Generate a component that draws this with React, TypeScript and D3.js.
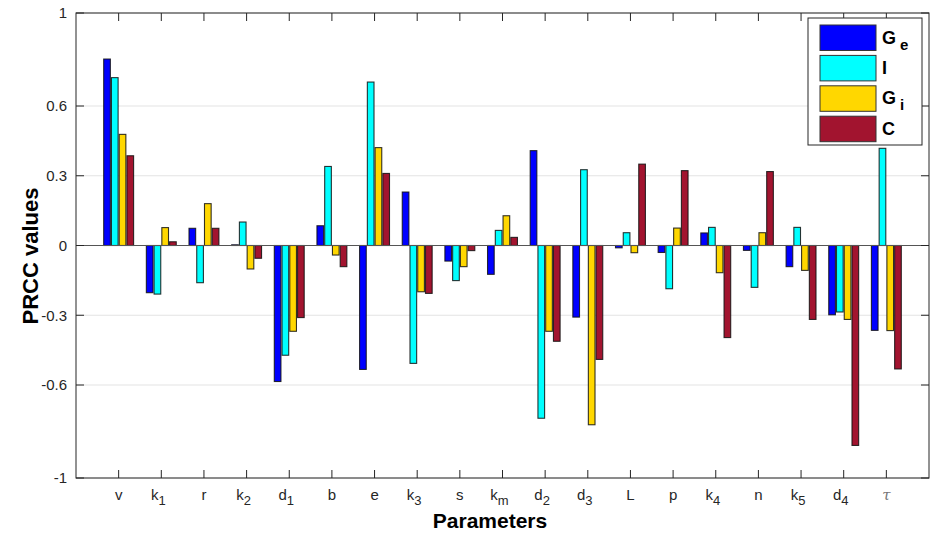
import React from "react";
import * as d3 from "d3";

const categories: { base: string; sub?: string; italic?: boolean }[] = [
  { base: "v" }, { base: "k", sub: "1" }, { base: "r" }, { base: "k", sub: "2" },
  { base: "d", sub: "1" }, { base: "b" }, { base: "e" }, { base: "k", sub: "3" },
  { base: "s" }, { base: "k", sub: "m" }, { base: "d", sub: "2" }, { base: "d", sub: "3" },
  { base: "L" }, { base: "p" }, { base: "k", sub: "4" }, { base: "n" },
  { base: "k", sub: "5" }, { base: "d", sub: "4" }, { base: "τ", italic: true },
];

const Ge = [0.802, -0.203, 0.074, 0.003, -0.585, 0.085, -0.533, 0.23, -0.067, -0.124, 0.408, -0.308, -0.01, -0.03, 0.054, -0.021, -0.091, -0.298, -0.365];
const I = [0.722, -0.209, -0.16, 0.101, -0.472, 0.34, 0.703, -0.507, -0.151, 0.065, -0.743, 0.326, 0.055, -0.186, 0.078, -0.18, 0.078, -0.286, 0.418];
const Gi = [0.478, 0.077, 0.18, -0.101, -0.369, -0.041, 0.421, -0.199, -0.091, 0.128, -0.369, -0.771, -0.031, 0.075, -0.117, 0.055, -0.107, -0.318, -0.366];
const C = [0.386, 0.016, 0.074, -0.055, -0.31, -0.091, 0.31, -0.206, -0.022, 0.035, -0.412, -0.49, 0.35, 0.322, -0.396, 0.318, -0.318, -0.86, -0.531];

const seriesNames = ["Ge", "I", "Gi", "C"];
const seriesLabels: { base: string; sub?: string }[] = [
  { base: "G", sub: "e" }, { base: "I" }, { base: "G", sub: "i" }, { base: "C" },
];
const seriesValues = [Ge, I, Gi, C];
const seriesColors = ["#0000ff", "#00ffff", "#ffd700", "#a2142f"];

const yTicks = [1, 0.6, 0.3, 0, -0.3, -0.6, -1];
const yTickLabels = ["1", "0.6", "0.3", "0", "-0.3", "-0.6", "-1"];

const W = 930;
const H = 536;
const left = 76;
const right = 929;
const top = 13;
const bottom = 478;

export default function App() {
  const x = d3.scaleLinear().domain([0, categories.length + 1]).range([left, right]);
  const y = d3.scaleLinear().domain([-1, 1]).range([bottom, top]);
  const inner = d3
    .scaleBand<string>()
    .domain(seriesNames)
    .range([-15.5, 15.5])
    .paddingInner(0.14)
    .paddingOuter(0.07);
  const font = "'Liberation Sans', Arial, Helvetica, sans-serif";
  const axisColor = "#262626";

  return (
    <svg
      width={W}
      height={H}
      style={{ position: "absolute", left: 0, top: 0, background: "#fff" }}
      fontFamily={font}
    >
      <rect x={0} y={0} width={W} height={H} fill="#fff" />
      {/* grid */}
      {yTicks.map((t) => (
        <line key={"g" + t} x1={left} x2={right} y1={y(t)} y2={y(t)} stroke="#e3e3e3" strokeWidth={1.2} />
      ))}
      {/* bars */}
      {seriesValues.map((vals, s) =>
        vals.map((v, i) => {
          const cx = x(i + 1);
          const bx = cx + (inner(seriesNames[s]) as number);
          const y0 = y(0);
          const y1 = y(v);
          return (
            <rect
              key={s + "-" + i}
              x={bx}
              y={Math.min(y0, y1)}
              width={inner.bandwidth()}
              height={Math.abs(y1 - y0)}
              fill={seriesColors[s]}
              stroke="#111"
              strokeOpacity={0.85}
              strokeWidth={1.1}
            />
          );
        })
      )}
      {/* zero baseline */}
      <line x1={left} x2={right} y1={y(0)} y2={y(0)} stroke="#555" strokeWidth={1} />
      {/* box */}
      <rect x={left} y={top} width={right - left} height={bottom - top} fill="none" stroke={axisColor} strokeWidth={1} />
      {/* y ticks */}
      {yTicks.map((t, k) => (
        <g key={"yt" + t}>
          <line x1={left} x2={left + 8} y1={y(t)} y2={y(t)} stroke={axisColor} />
          <line x1={right} x2={right - 8} y1={y(t)} y2={y(t)} stroke={axisColor} />
          <text x={left - 9} y={y(t)} dy="0.35em" textAnchor="end" fontSize={15} fill="#262626">
            {yTickLabels[k]}
          </text>
        </g>
      ))}
      {/* x ticks */}
      {categories.map((c, i) => (
        <g key={"xt" + i}>
          <line x1={x(i + 1)} x2={x(i + 1)} y1={bottom} y2={bottom - 8} stroke={axisColor} />
          <line x1={x(i + 1)} x2={x(i + 1)} y1={top} y2={top + 8} stroke={axisColor} />
          <text
            x={x(i + 1) - (c.sub ? 3 : 0)}
            y={500}
            textAnchor="middle"
            fontSize={15}
            fill={c.italic ? "#777" : "#262626"}
            fontStyle={c.italic ? "italic" : "normal"}
            fontFamily={c.italic ? "'DejaVu Serif', serif" : font}
          >
            {c.base}
            {c.sub && (
              <tspan dy={5} fontSize={13}>
                {c.sub}
              </tspan>
            )}
          </text>
        </g>
      ))}
      {/* axis titles */}
      <text x={490} y={528} textAnchor="middle" fontSize={21} fontWeight="bold" fill="#000">
        Parameters
      </text>
      <text
        transform={`translate(38, 256) rotate(-90)`}
        textAnchor="middle"
        fontSize={22}
        fontWeight="bold"
        fill="#000"
      >
        PRCC values
      </text>
      {/* legend */}
      <g>
        <rect x={808} y={18} width={114} height={127} fill="#fff" stroke={axisColor} strokeWidth={1} />
        {seriesLabels.map((l, s) => (
          <g key={"lg" + s}>
            <rect x={820} y={25 + s * 30.4} width={56} height={25.5} fill={seriesColors[s]} stroke="#333" strokeWidth={1} />
            <text x={882} y={25 + s * 30.4 + 18.5} fontSize={18} fontWeight="bold" fill="#000">
              {l.base}
              {l.sub && (
                <tspan dx={4} dy={6} fontSize={15}>
                  {l.sub}
                </tspan>
              )}
            </text>
          </g>
        ))}
      </g>
    </svg>
  );
}
